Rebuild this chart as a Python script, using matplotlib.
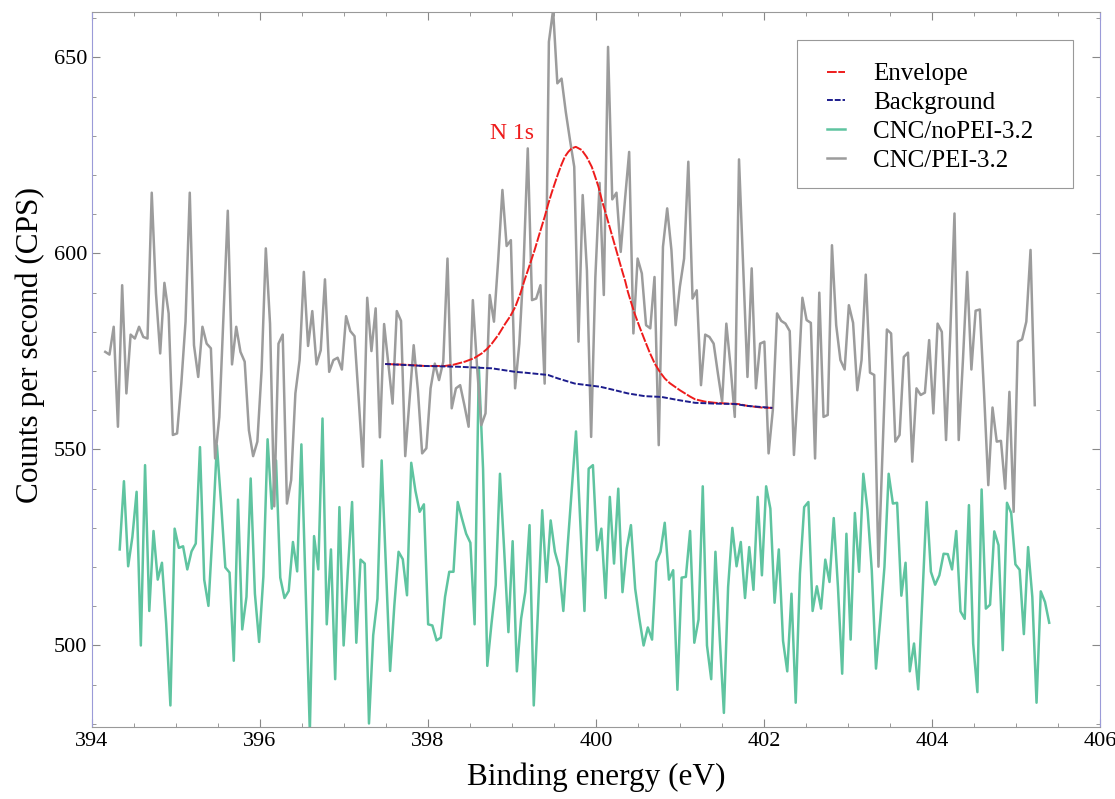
import numpy as np
import matplotlib.pyplot as plt
from matplotlib.patches import Rectangle
from matplotlib.ticker import MultipleLocator

plt.rcParams['font.family'] = ['Liberation Serif', 'DejaVu Serif']

# binding energy grid of the two spectra (start, step in eV)
pei_start = 394.158
nopei_start = 394.33
be_step = 0.0503

# CNC/PEI-3.2 counts per second
pei_cps = [
    574.9, 574.2, 581.3, 555.8, 591.9, 564.3, 579.3, 578.3, 581.3, 578.7,
    578.3, 615.5, 589.8, 574.5, 592.5, 584.7, 553.7, 554.1, 566.8, 582.6,
    615.5, 576.6, 568.5, 581.3, 577.0, 575.8, 547.7, 558.3, 584.7, 610.9,
    571.7, 581.3, 574.9, 572.4, 554.9, 548.3, 552.0, 570.2, 601.3, 582.1,
    535.5, 577.0, 579.3, 536.2, 542.2, 564.3, 572.8, 595.3, 576.4, 585.3,
    571.7, 575.3, 593.4, 569.8, 572.8, 573.4, 570.4, 584.0, 580.2, 578.9,
    562.6, 545.6, 588.7, 575.1, 586.0, 553.1, 582.0, 571.9, 561.7, 585.3,
    582.8, 548.3, 562.6, 576.6, 565.1, 549.0, 550.3, 565.6, 571.9, 567.7,
    572.4, 598.7, 560.5, 565.6, 566.4, 561.3, 555.8, 588.1, 571.1, 556.2,
    559.2, 589.4, 582.6, 598.3, 616.2, 601.9, 603.4, 565.6, 577.0, 596.6,
    626.8, 588.1, 588.5, 591.9, 566.8, 654.0, 662.1, 643.4, 644.6, 636.1,
    628.9, 622.1, 577.5, 614.9, 595.7, 553.2, 594.0, 618.0, 589.4, 652.7,
    613.8, 615.5, 600.4, 613.6, 625.9, 579.6, 598.7, 594.9, 581.7, 580.9,
    594.0, 551.1, 601.7, 611.5, 600.9, 581.7, 591.5, 598.7, 623.4, 588.5,
    590.6, 566.4, 579.3, 578.7, 577.0, 569.4, 562.2, 582.1, 571.1, 558.3,
    624.0, 596.6, 568.5, 596.2, 565.6, 577.0, 577.5, 549.0, 560.0, 584.7,
    582.8, 582.1, 580.2, 548.6, 566.8, 588.7, 583.0, 582.3, 547.7, 590.0,
    558.3, 558.8, 602.1, 581.7, 572.8, 570.4, 586.8, 582.3, 565.1, 572.8,
    594.6, 569.6, 569.0, 520.1, 550.7, 580.6, 579.6, 552.0, 553.7, 573.6,
    574.7, 546.9, 565.6, 563.9, 564.5, 577.9, 559.2, 582.1, 580.0, 552.4,
    579.6, 610.2, 552.4, 572.8, 595.3, 570.4, 585.4, 585.7, 564.3, 540.9,
    560.7, 552.0, 552.2, 540.0, 564.7, 534.1, 577.5, 578.1, 582.6, 600.9,
    561.3,
]

# CNC/noPEI-3.2 counts per second
nopei_cps = [
    524.5, 541.9, 520.2, 527.7, 539.2, 500.0, 546.0, 508.8, 529.2, 516.8,
    521.1, 505.6, 484.7, 529.8, 524.9, 525.3, 519.4, 524.0, 526.0, 550.6,
    516.8, 510.1, 529.4, 551.1, 536.2, 519.9, 518.6, 496.1, 537.2, 504.1,
    512.4, 542.6, 513.2, 500.9, 517.5, 552.6, 534.9, 547.2, 517.3, 512.1,
    513.9, 526.4, 518.9, 551.3, 514.9, 478.0, 527.9, 519.4, 557.9, 505.4,
    524.5, 491.4, 535.3, 500.0, 519.2, 536.6, 500.7, 521.9, 520.9, 480.1,
    502.6, 511.9, 547.2, 520.0, 493.5, 510.2, 523.9, 522.0, 512.8, 546.6,
    539.4, 534.1, 536.0, 505.4, 505.1, 501.3, 502.0, 512.4, 518.8, 518.8,
    536.6, 532.4, 528.5, 526.2, 505.4, 571.0, 545.0, 494.8, 505.6, 515.4,
    543.8, 524.3, 503.4, 526.6, 493.4, 506.8, 513.7, 530.7, 484.7, 509.0,
    534.5, 516.2, 531.9, 523.9, 520.0, 508.8, 525.1, 540.0, 554.6, 531.9,
    508.8, 545.1, 546.0, 524.3, 529.8, 512.1, 537.9, 520.9, 540.0, 513.6,
    524.7, 530.7, 514.5, 506.8, 500.0, 504.6, 501.5, 521.3, 523.9, 531.3,
    516.8, 519.2, 488.7, 517.3, 517.5, 529.2, 500.7, 506.6, 540.6, 500.0,
    491.4, 523.9, 502.2, 482.8, 514.9, 530.0, 520.2, 526.4, 512.1, 525.1,
    514.2, 537.9, 517.9, 540.6, 534.9, 510.9, 524.5, 501.2, 493.4, 513.2,
    485.4, 518.3, 535.3, 536.6, 508.8, 515.1, 509.4, 521.9, 516.2, 532.5,
    514.9, 492.8, 528.5, 501.5, 533.8, 518.8, 543.8, 534.5, 519.2, 494.1,
    506.4, 520.0, 543.8, 536.2, 536.4, 512.7, 521.1, 493.4, 500.5, 488.8,
    512.4, 536.6, 518.8, 515.5, 517.9, 523.4, 523.3, 519.4, 529.2, 508.7,
    506.8, 535.8, 500.5, 488.1, 539.8, 509.4, 510.4, 529.1, 525.6, 498.8,
    536.4, 533.8, 520.7, 519.3, 502.9, 525.1, 512.4, 485.4, 513.8, 511.1,
    505.8,
]

# N 1s fit: envelope and background
env_be = [397.49, 397.75, 397.96, 398.20, 398.30, 398.44, 398.55, 398.64,
          398.70, 398.76, 398.84, 398.92, 398.98, 399.04, 399.10, 399.15,
          399.21, 399.27, 399.33, 399.39, 399.43, 399.47, 399.51, 399.55,
          399.59, 399.63, 399.67, 399.71, 399.76, 399.83, 399.89, 399.95,
          399.99, 400.03, 400.07, 400.11, 400.15, 400.19, 400.23, 400.27,
          400.31, 400.35, 400.38, 400.42, 400.46, 400.52, 400.58, 400.64,
          400.70, 400.76, 400.82, 400.88, 400.94, 401.00, 401.06, 401.12,
          401.18, 401.24, 401.30, 401.42, 401.57, 401.69, 401.81, 401.97,
          402.10]
env_cps = [571.8, 571.6, 571.3, 571.3, 571.6, 572.4, 573.3, 574.5,
           575.6, 577.0, 579.3, 582.1, 584.0, 586.4, 589.8, 593.2,
           597.0, 600.9, 605.2, 609.4, 612.5, 615.3, 617.9, 620.4,
           622.7, 624.7, 625.9, 626.8, 627.2, 626.4, 624.6, 622.1,
           619.6, 617.0, 613.6, 610.7, 607.7, 604.7, 601.7, 598.7,
           595.7, 592.8, 590.2, 587.4, 584.7, 581.2, 577.9, 574.7,
           571.9, 569.8, 568.1, 566.9, 566.0, 565.1, 564.3, 563.5,
           562.8, 562.5, 562.2, 561.9, 561.7, 561.6, 561.1, 560.7,
           560.6]

bg_be = [397.49, 397.96, 398.36, 398.76, 399.04, 399.15, 399.43, 399.55,
         399.75, 400.05, 400.19, 400.38, 400.58, 400.78, 400.98, 401.18,
         401.42, 401.65, 401.81, 402.10]
bg_cps = [571.8, 571.3, 571.1, 570.7, 569.8, 569.6, 569.0, 568.1,
          566.8, 566.0, 565.3, 564.3, 563.6, 563.4, 562.6, 561.9,
          561.7, 561.6, 561.1, 560.6]

pei_be = pei_start + be_step * np.arange(len(pei_cps))
nopei_be = nopei_start + be_step * np.arange(len(nopei_cps))

fig = plt.figure(figsize=(11.15, 7.99), dpi=100)
ax = fig.add_axes([0.0825, 0.0901, 0.904, 0.8949])

ax.plot(env_be, env_cps, color='#ee1c1c', lw=1.4, ls=(0, (5, 0.8)), label='Envelope', zorder=4)
ax.plot(bg_be, bg_cps, color='#1c1c8c', lw=1.4, ls=(0, (3, 1)), label='Background', zorder=4)
ax.plot(nopei_be, nopei_cps, color='#5fc4a0', lw=1.8, label='CNC/noPEI-3.2', zorder=2)
ax.plot(pei_be, pei_cps, color='#9c9c9c', lw=1.8, label='CNC/PEI-3.2', zorder=3)

ax.text(399.0, 630.5, 'N 1s', color='#ee1c1c', fontsize=17, ha='center', va='center')

ax.set_xlim(394, 406)
ax.set_ylim(479.2, 661.6)
ax.xaxis.set_major_locator(MultipleLocator(2))
ax.xaxis.set_minor_locator(MultipleLocator(0.5))
ax.yaxis.set_major_locator(MultipleLocator(50))
ax.yaxis.set_minor_locator(MultipleLocator(10))
ax.tick_params(which='both', direction='in', top=True, right=True, labelsize=16,
               color='#888888')
ax.tick_params(which='major', length=6)
ax.tick_params(which='minor', length=3)

for side in ['left', 'right']:
    ax.spines[side].set_color('#9b9bd8')
for side in ['top', 'bottom']:
    ax.spines[side].set_color('#999999')

ax.set_xlabel('Binding energy (eV)', fontsize=22.5)
ax.set_ylabel('Counts per second (CPS)', fontsize=22.5)
ax.xaxis.set_label_coords(0.5, -0.049)
ax.yaxis.set_label_coords(-0.047, 0.534)

# legend frame drawn separately, entries placed inside it
ax.add_patch(Rectangle((0.699, 0.754), 0.274, 0.207, transform=ax.transAxes,
                       facecolor='white', edgecolor='#999999', lw=0.8, zorder=5))
leg = ax.legend(loc='upper left', bbox_to_anchor=(0.729, 0.929), frameon=False,
                fontsize=18, handlelength=0.72, labelspacing=0.25, borderpad=0,
                handletextpad=1.12, borderaxespad=0)
leg.set_zorder(6)

fig.savefig('out.png', dpi=100)
